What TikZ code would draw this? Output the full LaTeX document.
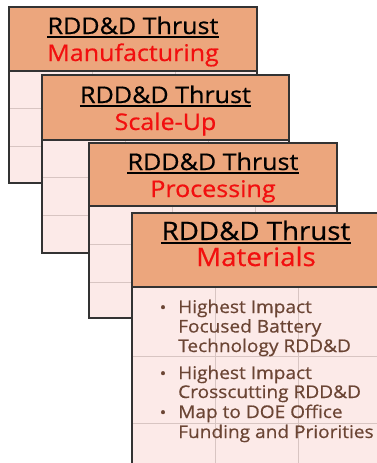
\documentclass[tikz,border=0pt]{standalone}
\usepackage{fontspec}
\setmainfont{Open Sans}[FakeStretch=1.1]
\newfontfamily\medfont{Open Sans}[FakeStretch=1.09,FakeBold=0.6]
\definecolor{hdr}{HTML}{ECA67D}
\definecolor{bodyc}{HTML}{FCEAE8}
\definecolor{gridc}{HTML}{D8C5C2}
\definecolor{edgec}{HTML}{333333}
\definecolor{txtc}{HTML}{6B4534}
\definecolor{ttlred}{HTML}{F20F0F}
\tikzset{
  cardedge/.style={draw=edgec, line width=1.6pt},
  gridline/.style={draw=gridc, line width=1pt},
  ttl/.style={inner sep=0pt, anchor=base, text=black, font=\medfont\fontsize{23}{25}\selectfont},
  sub/.style={inner sep=0pt, anchor=base, text=ttlred, font=\medfont\fontsize{23}{25}\selectfont},
  bigttl/.style={inner sep=0pt, anchor=base, text=black, font=\medfont\fontsize{25.4}{27}\selectfont},
  bigsub/.style={inner sep=0pt, anchor=base, text=ttlred, font=\medfont\fontsize{25.4}{27}\selectfont},
  uline/.style={draw=black, line width=1.3pt},
  btxt/.style={inner sep=0pt, anchor=base west, text=txtc, font=\medfont\fontsize{17.5}{19}\selectfont},
  bdot/.style={inner sep=0pt, anchor=base, text=txtc, font=\medfont\fontsize{16}{19}\selectfont},
}
% #1 left, #2 top, #3 header bottom, #4 row1, #5 row2, #6 bottom, #7 right
\newcommand\thrustcard[7]{%
  \fill[bodyc] (#1,#2) rectangle (#7,#6);
  \draw[gridline] (#1,#4) -- (#7,#4);
  \draw[gridline] (#1,#5) -- (#7,#5);
  \draw[gridline] ({#1+83},#3) -- ({#1+83},#6);
  \draw[gridline] ({#1+166},#3) -- ({#1+166},#6);
  \fill[hdr] (#1,#2) rectangle (#7,#3);
  \draw[cardedge] (#1,#3) -- (#7,#3);
  \draw[cardedge] (#1,#2) rectangle (#7,#6);
}
\begin{document}
\begin{tikzpicture}[x=1pt,y=-1pt]
\useasboundingbox (0,0) rectangle (377,463);
\begin{scope}
\clip (0,0) rectangle (377,463);
% card 1
\thrustcard{9}{7}{71}{108}{146}{183}{257}
\node[ttl] (t1) at (133,34) {RDD\&D Thrust};
\draw[uline] ([yshift=-3pt]t1.base west) -- ([yshift=-3pt]t1.base east);
\node[sub] (s1) at (133,61) {Manufacturing};
% card 2
\thrustcard{42}{75}{140}{177}{215}{253}{289}
\node[ttl] (t2) at (165.5,103) {RDD\&D Thrust};
\draw[uline] ([yshift=-3pt]t2.base west) -- ([yshift=-3pt]t2.base east);
\node[sub] (s2) at (165.5,130) {Scale-Up};
% card 3
\thrustcard{89}{143}{206}{244}{282}{318}{337}
\node[ttl] (t3) at (213,170) {RDD\&D Thrust};
\draw[uline] ([yshift=-3pt]t3.base west) -- ([yshift=-3pt]t3.base east);
\node[sub] (s3) at (213,197) {Processing};
% card 4
\thrustcard{132}{213}{287}{356}{423}{500}{380}
\node[bigttl] (t4) at (256,240) {RDD\&D Thrust};
\draw[uline] ([yshift=-3pt]t4.base west) -- ([yshift=-3pt]t4.base east);
\node[bigsub] (s4) at (256,266) {Materials};
% bullets
\node[bdot] (d1) at (163,313) {•};
\node[btxt] (l1a) at (178,313) {Highest Impact};
\node[btxt] (l1b) at (178,332.5) {Focused Battery};
\node[btxt] (l1c) at (178,352) {Technology RDD\&D};
\node[bdot] (d2) at (163,379) {•};
\node[btxt] (l2a) at (178,379) {Highest Impact};
\node[btxt] (l2b) at (178,398) {Crosscutting RDD\&D};
\node[bdot] (d3) at (163,418) {•};
\node[btxt] (l3a) at (178,418) {Map to DOE Office};
\node[btxt] (l3b) at (178,438) {Funding and Priorities};
\end{scope}
\end{tikzpicture}
\end{document}
